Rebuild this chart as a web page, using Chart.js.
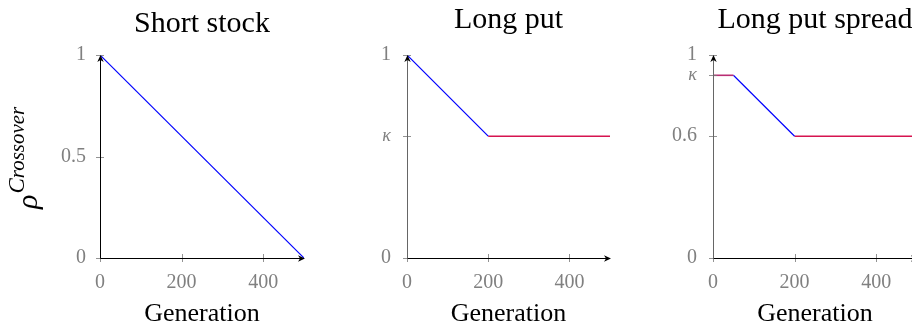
<!DOCTYPE html>
<html>
<head>
<meta charset="utf-8">
<script src="https://cdn.jsdelivr.net/npm/chart.js@4"></script>
<style>
  body { margin: 0; width: 912px; height: 330px; overflow: hidden; background: #fff; position: relative; }
  .panel { position: absolute; top: 0; height: 330px; }
</style>
</head>
<body>
<div class="panel" style="left:0px"><canvas id="shortStock" width="320" height="330"></canvas></div>
<div class="panel" style="left:320px"><canvas id="longPut" width="300" height="330"></canvas></div>
<div class="panel" style="left:620px"><canvas id="longPutSpread" width="310" height="330"></canvas></div>
<script>
// generations on x, crossover probability on y
const xTicks = [0, 200, 400];

const shortStockGen = [0, 500];
const shortStockRho = [1, 0];
const shortStockYTicks = [0, 0.5, 1];
const shortStockYLabels = ['0', '0.5', '1'];

const longPutDecayGen = [0, 200];
const longPutDecayRho = [1, 0.6];
const longPutFlatGen = [200, 500];
const longPutFlatRho = [0.6, 0.6];
const longPutYTicks = [0, 0.6, 1];
const longPutYLabels = ['0', 'κ', '1'];

const spreadCapGen = [0, 50];
const spreadCapRho = [0.9, 0.9];
const spreadDecayGen = [50, 200];
const spreadDecayRho = [0.9, 0.6];
const spreadFloorGen = [200, 500];
const spreadFloorRho = [0.6, 0.6];
const spreadYTicks = [0, 0.6, 0.9, 1];
const spreadYLabels = ['0', '0.6', 'κ', '1'];

const serif = "'Liberation Serif', 'DejaVu Serif', serif";
const tickGray = '#808080';
const blue = '#0000ff';
const red = 'rgb(214,20,80)';
const purple = 'rgb(185,45,115)';

function pts(xs, ys) {
  return xs.map((x, i) => ({ x: x, y: ys[i] }));
}

function line(data, color, width) {
  return { data: data, borderColor: color, borderWidth: width, pointRadius: 0, tension: 0, fill: false };
}

function stealth(ctx, x, y, angle) {
  ctx.save();
  ctx.translate(x, y);
  ctx.rotate(angle);
  ctx.beginPath();
  ctx.moveTo(0, 0);
  ctx.lineTo(-7, -3.2);
  ctx.lineTo(-5, 0);
  ctx.lineTo(-7, 3.2);
  ctx.closePath();
  ctx.fillStyle = '#000';
  ctx.fill();
  ctx.restore();
}

const axisArrows = {
  id: 'axisArrows',
  afterDatasetsDraw(chart, args, opts) {
    const ctx = chart.ctx;
    const a = chart.chartArea;
    const sx = chart.scales.x;
    const sy = chart.scales.y;
    ctx.save();
    ctx.strokeStyle = '#777';
    ctx.lineWidth = 0.8;
    ctx.beginPath();
    sx.ticks.forEach(t => {
      const px = Math.round(sx.getPixelForValue(t.value)) + 0.5;
      ctx.moveTo(px, a.bottom - 4);
      ctx.lineTo(px, a.bottom + 4);
    });
    sy.ticks.forEach(t => {
      const py = Math.round(sy.getPixelForValue(t.value)) + 0.5;
      ctx.moveTo(a.left - 4, py);
      ctx.lineTo(a.left + 4, py);
    });
    ctx.stroke();

    const bx = Math.round(a.left) + 0.5;
    const by = Math.round(a.bottom) + 0.5;
    ctx.lineWidth = 1;
    ctx.strokeStyle = '#000';
    ctx.beginPath();
    ctx.moveTo(bx, by);
    ctx.lineTo(a.right - 2, by);
    ctx.stroke();
    ctx.strokeStyle = opts.yColor || '#000';
    ctx.beginPath();
    ctx.moveTo(bx, by);
    ctx.lineTo(bx, a.top + 2);
    ctx.stroke();
    stealth(ctx, a.right + 1, by, 0);
    stealth(ctx, bx, a.top, -Math.PI / 2);
    ctx.restore();
  }
};

const rhoLabel = {
  id: 'rhoLabel',
  afterDraw(chart) {
    const ctx = chart.ctx;
    ctx.save();
    ctx.translate(37, 209);
    ctx.rotate(-Math.PI / 2);
    ctx.fillStyle = '#000';
    ctx.textBaseline = 'alphabetic';
    ctx.font = 'italic 30px ' + serif;
    ctx.fillText('ρ', 0, 0);
    let x = ctx.measureText('ρ').width + 1;
    ctx.font = 'italic 23px ' + serif;
    ctx.fillText('C', x, -13);
    x += ctx.measureText('C').width;
    ctx.font = 'italic 21px ' + serif;
    ctx.fillText('rossover', x, -13);
    ctx.restore();
  }
};

function makeScales(yTicks, yLabels, yPad) {
  return {
    x: {
      type: 'linear',
      min: 0,
      max: 500,
      grid: { display: false },
      border: { display: false },
      afterBuildTicks: s => { s.ticks = xTicks.map(v => ({ value: v })); },
      afterFit: s => { s.height = 72; },
      ticks: {
        color: tickGray,
        font: { family: serif, size: 20 },
        padding: 5,
        maxRotation: 0,
        autoSkip: false
      },
      title: {
        display: true,
        text: 'Generation',
        color: '#000',
        font: { family: serif, size: 26 },
        padding: { top: 0, bottom: 0 }
      }
    },
    y: {
      type: 'linear',
      min: 0,
      max: 1,
      grid: { display: false },
      border: { display: false },
      afterBuildTicks: s => { s.ticks = yTicks.map(v => ({ value: v })); },
      afterFit: s => { s.width = 60; },
      ticks: {
        color: tickGray,
        autoSkip: false,
        padding: yPad,
        font: c => (c.tick && c.tick.label === 'κ')
          ? { family: serif, size: 18, style: 'italic' }
          : { family: serif, size: 20 },
        callback: v => yLabels[yTicks.indexOf(v)]
      }
    }
  };
}

function makeChart(id, datasets, title, titleTop, pad, yTicks, yLabels, yPad, yColor, extra) {
  return new Chart(document.getElementById(id), {
    type: 'line',
    data: { datasets: datasets },
    options: {
      responsive: false,
      animation: false,
      devicePixelRatio: 1,
      layout: { padding: pad },
      scales: makeScales(yTicks, yLabels, yPad),
      plugins: {
        legend: { display: false },
        tooltip: { enabled: false },
        title: {
          display: true,
          text: title,
          fullSize: false,
          color: '#000',
          font: { family: serif, size: 30, weight: 'normal' },
          padding: { top: titleTop, bottom: 55 - titleTop - 36 }
        },
        axisArrows: { yColor: yColor }
      }
    },
    plugins: [axisArrows].concat(extra)
  });
}

makeChart('shortStock',
  [line(pts(shortStockGen, shortStockRho), blue, 1.2)],
  'Short stock', 6, { left: 40, right: 16, top: 0, bottom: 0 },
  shortStockYTicks, shortStockYLabels, 6, '#000', [rhoLabel]);

makeChart('longPut',
  [line(pts(longPutDecayGen, longPutDecayRho), blue, 1.2),
   line(pts(longPutFlatGen, longPutFlatRho), red, 1.6)],
  'Long put', 2, { left: 27, right: 10, top: 0, bottom: 0 },
  longPutYTicks, longPutYLabels, 8, '#666', []);

makeChart('longPutSpread',
  [line(pts(spreadCapGen, spreadCapRho), purple, 1.6),
   line(pts(spreadDecayGen, spreadDecayRho), blue, 1.2),
   line(pts(spreadFloorGen, spreadFloorRho), red, 1.6)],
  'Long put spread', 2, { left: 33, right: 13, top: 0, bottom: 0 },
  spreadYTicks, spreadYLabels, 8, '#666', []);
</script>
</body>
</html>
